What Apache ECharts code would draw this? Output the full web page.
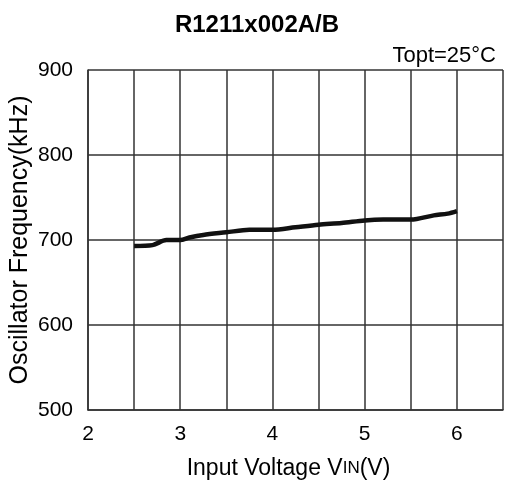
<!DOCTYPE html>
<html>
<head>
<meta charset="utf-8">
<script src="https://cdn.jsdelivr.net/npm/echarts@6/dist/echarts.min.js"></script>
<style>
html,body{margin:0;padding:0;background:#fff;}
#chart{width:505px;height:488px;}
</style>
</head>
<body>
<div id="chart"></div>
<script>
const titleText = 'R1211x002A/B';
const conditionText = 'Topt=25°C';
const voltage = [2.5, 2.7, 2.85, 3.0, 3.1, 3.25, 3.5, 3.75, 4.0, 4.25, 4.5, 4.75, 5.0, 5.2, 5.5, 5.75, 5.9, 6.0];
const frequency = [693, 694, 700, 700, 703, 706, 709, 712, 712, 715, 718, 720, 723, 724, 724, 729, 731, 734];
const xTickLabels = ['2', '3', '4', '5', '6'];
const yTickLabels = ['500', '600', '700', '800', '900'];

const chart = echarts.init(document.getElementById('chart'), null, {renderer: 'canvas'});
const font = 'Liberation Sans, Arial, sans-serif';
const axisColor = '#333';
chart.setOption({
  animation: false,
  backgroundColor: '#fff',
  title: [
    {text: titleText, left: 252, top: 8, textAlign: 'center',
     textStyle: {fontFamily: font, fontSize: 24, fontWeight: 'bold', color: '#000'}},
    {text: conditionText, right: 4, top: 40,
     textStyle: {fontFamily: font, fontSize: 22, fontWeight: 'normal', color: '#000'}}
  ],
  grid: {left: 88, right: 2, top: 70, bottom: 78, containLabel: false, outerBoundsMode: 'none'},
  xAxis: {
    type: 'value', min: 2, max: 6.5, interval: 0.5,
    axisLine: {show: true, lineStyle: {color: axisColor, width: 1.5}},
    axisTick: {show: false},
    splitLine: {show: true, lineStyle: {color: axisColor, width: 1.5}},
    axisLabel: {
      margin: 14, fontFamily: font, fontSize: 21, color: '#000',
      formatter: v => { const s = String(v); return xTickLabels.indexOf(s) >= 0 ? s : ''; }
    },
    name: 'Input Voltage V{s|IN}(V)',
    nameLocation: 'middle', nameGap: 47, nameMoveOverlap: false,
    nameTextStyle: {fontFamily: font, fontSize: 23, color: '#000', padding: [0, 14, 0, 0],
      rich: {s: {fontFamily: font, fontSize: 17, color: '#000'}}}
  },
  yAxis: {
    type: 'value', min: 500, max: 900, interval: 100,
    axisLine: {show: true, lineStyle: {color: axisColor, width: 1.5}},
    axisTick: {show: false},
    splitLine: {show: true, lineStyle: {color: axisColor, width: 1.5}},
    axisLabel: {
      margin: 15, fontFamily: font, fontSize: 21, color: '#000',
      formatter: v => { const s = String(v); return yTickLabels.indexOf(s) >= 0 ? s : ''; }
    },
    name: 'Oscillator Frequency(kHz)',
    nameLocation: 'middle', nameGap: 55, nameMoveOverlap: false,
    nameTextStyle: {fontFamily: font, fontSize: 25, color: '#000'}
  },
  series: [{
    type: 'line',
    data: voltage.map((v, i) => [v, frequency[i]]),
    showSymbol: false, smooth: 0.3,
    lineStyle: {color: '#111', width: 4.5},
    z: 5
  }]
});
</script>
</body>
</html>
